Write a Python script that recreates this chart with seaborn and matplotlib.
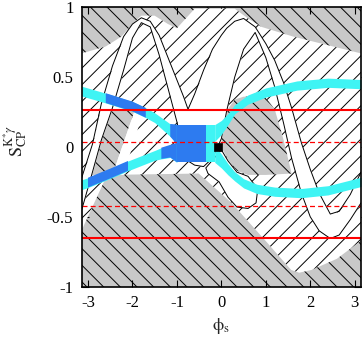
import numpy as np
import matplotlib
matplotlib.use("Agg")
import matplotlib.pyplot as plt
from matplotlib.patches import Polygon, Rectangle
import seaborn as sns

# theory band (white, outlined): upper and lower edge vs phi_s
phi_grid = [-3.1416, -2.9, -2.7, -2.45, -2.2, -2.0, -1.8, -1.6, -1.4, -1.2, -1.0,
            -0.85, -0.75, -0.6, -0.4, -0.2, 0.0, 0.12, 0.3, 0.5, 0.76, 1.0, 1.2,
            1.4, 1.58, 1.8, 2.0, 2.2, 2.45, 2.65, 2.9, 3.1416]
band_upper = [-0.22, 0.02, 0.31, 0.58, 0.79, 0.88, 0.925, 0.90, 0.80, 0.64, 0.48,
              0.36, 0.27, 0.38, 0.55, 0.70, 0.80, 0.85, 0.90, 0.92, 0.86, 0.74, 0.62,
              0.46, 0.28, 0.03, -0.16, -0.33, -0.48, -0.46, -0.34, -0.18]
band_lower = [-0.45, -0.18, 0.05, 0.28, 0.55, 0.78, 0.89, 0.86, 0.66, 0.42, 0.18,
              -0.02, -0.10, -0.13, -0.14, -0.08, 0.06, 0.26, 0.50, 0.70, 0.82, 0.64, 0.43,
              0.17, -0.08, -0.33, -0.50, -0.60, -0.655, -0.63, -0.52, -0.40]

# allowed region (white, "/" hatch)
allowed_x = [-3.1416, -2.6, -2.25, -2.0, -1.8, -1.5, -1.2, -1.0, -0.8, -0.6, 0.0, 0.3,
             0.6, 0.9, 1.62, 2.38, 3.1416, 3.1416, 2.6, 2.03, 1.75, 1.57, 0.99, 0.23,
             -0.51, -2.57, -3.12, -3.1416]
allowed_y = [0.67, 0.72, 0.79, 0.88, 0.94, 0.94, 0.88, 0.85, 0.92, 0.99, 0.99, 0.99,
             0.92, 0.86, 0.79, 0.73, 0.67, -0.67, -0.80, -0.88, -0.90, -0.88, -0.67, -0.40,
             -0.19, -0.20, -0.58, -0.58]

# excluded islands inside (grey, "\" hatch)
island_x = [0.0, 0.12, 0.3, 0.5, 0.98, 1.2, 1.4, 1.58, 1.0, 0.6, 0.35, 0.15, 0.03]
island_y = [0.06, 0.26, 0.34, 0.36, 0.36, 0.27, 0.05, -0.19, -0.2, -0.2, -0.17, -0.09, -0.02]
wedge_x = [-2.75, -1.95, -2.45, -2.95]
wedge_y = [0.26, 0.26, -0.2, -0.2]

# unhatched white patches
strip_x = [-1.95, -1.75, -2.2, -2.45]
strip_y = [0.26, 0.26, -0.2, -0.2]
lobe_x = [-0.35, 0.0, 0.15, 0.35, 0.6, 0.82, 0.78, 0.6, 0.35, 0.15, -0.05, -0.3]
lobe_y = [-0.15, -0.02, -0.1, -0.18, -0.21, -0.3, -0.40, -0.44, -0.43, -0.36, -0.25, -0.19]

# measured S_CP bands (centre and half width)
a_left_x = [-3.1416, -2.6, -2.0, -1.7, -1.5, -1.15, -1.0]
a_left_c = [0.40, 0.35, 0.29, 0.245, 0.21, 0.12, 0.09]
a_left_w = [0.035, 0.035, 0.035, 0.035, 0.035, 0.045, 0.07]
b_left_x = [-3.1416, -3.0, -2.5, -2.1, -1.5, -1.35, -1.15, -1.0]
b_left_c = [-0.27, -0.255, -0.19, -0.135, -0.06, -0.045, -0.03, -0.04]
b_left_w = [0.035, 0.035, 0.035, 0.035, 0.035, 0.04, 0.045, 0.07]
a_right_x = [-0.15, 0.0, 0.15, 0.3, 0.5, 0.8, 1.2, 1.8, 2.4, 3.1416]
a_right_c = [-0.05, -0.10, -0.16, -0.21, -0.26, -0.30, -0.32, -0.33, -0.31, -0.25]
a_right_w = [0.06, 0.05, 0.04, 0.033, 0.033, 0.033, 0.033, 0.033, 0.033, 0.033]
b_right_x = [-0.15, 0.0, 0.15, 0.3, 0.6, 1.0, 1.7, 2.4, 3.1416]
b_right_c = [0.10, 0.14, 0.20, 0.27, 0.34, 0.39, 0.44, 0.46, 0.45]
b_right_w = [0.06, 0.05, 0.04, 0.033, 0.033, 0.033, 0.033, 0.033, 0.033]
block_x = [-1.0, -0.35, -0.15]
block_lo = [-0.11, -0.11, -0.11]
block_hi = [0.16, 0.16, 0.16]

solid_levels = [0.268, -0.648]
dashed_levels = [0.036, -0.42]
point_x = [-0.08]
point_y = [0.0]

x_ticks = [-3, -2, -1, 0, 1, 2, 3]
x_tick_labels = ["-3", "-2", "-1", "0", "1", "2", "3"]
y_ticks = [-1, -0.5, 0, 0.5, 1]
y_tick_labels = ["-1", "-0.5", "0", "0.5", "1"]

GRAY = "#c8c8c8"
CYAN = "#3ff4f4"
BLUE = "#2d7bf0"

sns.set_style("ticks")
plt.rcParams["font.family"] = ["Liberation Serif", "DejaVu Serif"]
plt.rcParams["mathtext.fontset"] = "stix"
plt.rcParams["axes.unicode_minus"] = False
plt.rcParams["hatch.linewidth"] = 0.7

fig = plt.figure(figsize=(3.62, 3.38), dpi=100)
ax = fig.add_axes([0.2257, 0.1518, 0.7716, 0.8266])

# excluded background
ax.add_patch(Rectangle((0, 0), 1, 1, transform=ax.transAxes, facecolor=GRAY,
                       edgecolor="black", hatch="\\\\", lw=0, zorder=0))
ax.add_patch(Polygon(list(zip(allowed_x, allowed_y)), facecolor="white",
                     edgecolor="black", hatch="//", lw=0, zorder=1))
for px, py in [(island_x, island_y), (wedge_x, wedge_y)]:
    ax.add_patch(Polygon(list(zip(px, py)), facecolor=GRAY, edgecolor="black",
                         hatch="\\\\", lw=0, zorder=1.5))
ax.add_patch(Polygon(list(zip(strip_x, strip_y)), facecolor="white", lw=0, zorder=2))
ax.add_patch(Polygon(list(zip(lobe_x, lobe_y)), facecolor="white", edgecolor="black",
                     lw=0.7, zorder=2.5))

# theory band
ax.fill_between(phi_grid, band_lower, band_upper, color="white", lw=0, zorder=3)
sns.lineplot(x=phi_grid, y=band_upper, color="black", lw=0.7, ax=ax, zorder=3.5)
sns.lineplot(x=phi_grid, y=band_lower, color="black", lw=0.7, ax=ax, zorder=3.5)


def band(xs, cs, ws, color, where=None):
    xs, cs, ws = np.array(xs), np.array(cs), np.array(ws)
    ax.fill_between(xs, cs - ws, cs + ws, where=where, color=color, lw=0, zorder=4)


band(a_left_x, a_left_c, a_left_w, CYAN)
band(b_left_x, b_left_c, b_left_w, CYAN)
band(a_right_x, a_right_c, a_right_w, CYAN)
band(b_right_x, b_right_c, b_right_w, CYAN)
ax.fill_between(block_x, block_lo, block_hi, color=CYAN, lw=0, zorder=4)

ax_arr = np.array(a_left_x)
band(a_left_x, a_left_c, a_left_w, BLUE,
     where=((ax_arr >= -2.6) & (ax_arr <= -1.7)) | (ax_arr >= -1.15))
bx_arr = np.array(b_left_x)
band(b_left_x, b_left_c, b_left_w, BLUE,
     where=((bx_arr >= -3.0) & (bx_arr <= -2.1)) | (bx_arr >= -1.35))
ax.fill_between(block_x[:2], block_lo[:2], block_hi[:2], color=BLUE, lw=0, zorder=4.1)

for lvl in solid_levels:
    ax.axhline(lvl, color="#ff0000", lw=1.5, zorder=5)
for lvl in dashed_levels:
    ax.axhline(lvl, color="#ff0000", lw=0.9, dashes=(4, 2.5), zorder=5)

sns.scatterplot(x=point_x, y=point_y, marker="s", s=40, color="black",
                edgecolor="black", ax=ax, zorder=6)

ax.set_xlim(-3.1416, 3.1416)
ax.set_ylim(-1, 1)
ax.set_xticks(x_ticks)
ax.set_xticklabels(x_tick_labels)
ax.set_yticks(y_ticks)
ax.set_yticklabels(y_tick_labels)
ax.tick_params(direction="in", top=True, right=True, length=5, width=0.8,
               labelsize=12, pad=6, colors="black")
for sp in ax.spines.values():
    sp.set_linewidth(1.2)
    sp.set_color("black")
    sp.set_zorder(7)

ax.set_xlabel(r"$\mathrm{\phi}_{\mathrm{s}}$", fontsize=13)
ax.set_ylabel(r"$\mathrm{S}_{\mathrm{CP}}^{\mathrm{K}^{*}\gamma}$", fontsize=13)
ax.xaxis.set_label_coords(0.5, -0.105)
ax.yaxis.set_label_coords(-0.185, 0.52)

fig.savefig("out.png", dpi=100)
